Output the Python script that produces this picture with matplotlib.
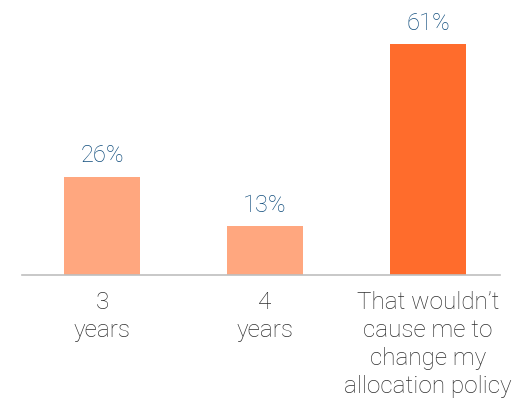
import matplotlib.pyplot as plt

categories = ["3\nyears",
              "4\nyears",
              "That wouldn’t\ncause me to\nchange my\nallocation policy"]
values = [26, 13, 61]
colors = ["#FFA77F", "#FFA77F", "#FF6C2C"]

plt.rcParams["font.family"] = ["Roboto", "DejaVu Sans"]

fig = plt.figure(figsize=(5.29, 4.13), dpi=100)
ax = fig.add_axes([22 / 529, 138 / 413, 478 / 529, 275 / 413])
x = range(len(values))
ax.bar(x, values, width=0.466, color=colors)
for xi, v in zip(x, values):
    ax.text(xi, v + 2.4, f"{v}%",
            ha="center", va="bottom",
            fontsize=17, fontweight="light",
            color="#0F4C7C")
for xi, label in zip(x, categories):
    ax.text(xi, -4.3, label,
            ha="center", va="top",
            fontsize=17.5, fontweight="light",
            color="#2E2E2E", linespacing=1.28)
ax.set_xlim(-0.49, 2.44)
ax.set_ylim(0, 72.6)
for side in ["top", "right", "left"]:
    ax.spines[side].set_visible(False)
ax.spines["bottom"].set_color("#BFBFBF")
ax.spines["bottom"].set_linewidth(1.2)
ax.set_xticks([])
ax.set_yticks([])
fig.savefig("out.png", dpi=100)
